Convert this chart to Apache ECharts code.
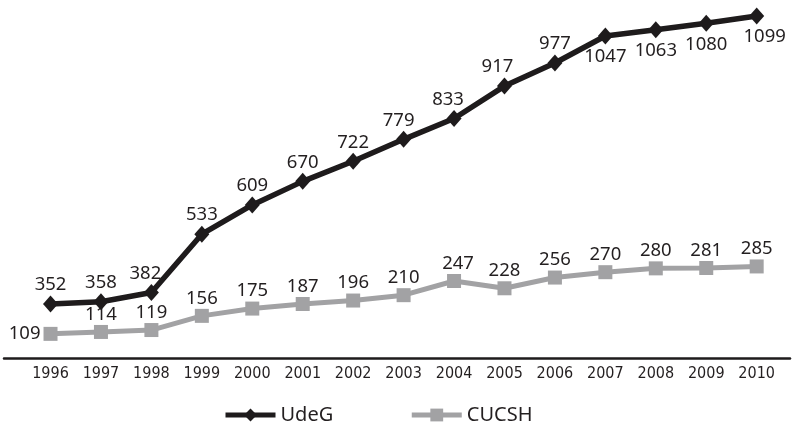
<!DOCTYPE html>
<html>
<head>
<meta charset="utf-8">
<script src="https://cdn.jsdelivr.net/npm/echarts@6/dist/echarts.min.js"></script>
<style>
  html, body { margin: 0; padding: 0; background: #fff; }
  #chart { width: 792px; height: 424px; }
</style>
</head>
<body>
<div id="chart"></div>
<script>
// Students enrolled per year
const years = ['1996','1997','1998','1999','2000','2001','2002','2003','2004','2005','2006','2007','2008','2009','2010'];
const udegValues = [352, 358, 382, 533, 609, 670, 722, 779, 833, 917, 977, 1047, 1063, 1080, 1099];
const cucshValues = [109, 114, 119, 156, 175, 187, 196, 210, 247, 228, 256, 270, 280, 281, 285];
const seriesNames = ['UdeG', 'CUCSH'];

// Each series has its own (hidden) value axis
const udegRange = [212, 1104];
const cucshRange = [46, 944];

// Labels that sit under / beside their point instead of above
const udegBelow = ['2007', '2008', '2009', '2010'];
const cucshLeft = ['1996'];
// Small horizontal nudges so labels clear the rising line
const udegNudge = { '1998': -6, '2003': -5, '2004': -6, '2005': -7, '2010': 8 };
const cucshNudge = { '2004': 4 };

const DARK = '#1e1b1c';
const GREY = '#a2a2a4';
const TEXT = '#231f20';
const labelFont = { fontFamily: '"Noto Sans", sans-serif', fontSize: 18.5, color: TEXT };

function withLabels(values, special, specialPos, distance, nudge) {
  return values.map((v, i) => {
    const item = { value: v };
    const label = {};
    if (special.includes(years[i])) {
      label.position = specialPos;
      label.distance = distance;
    }
    if (nudge[years[i]] !== undefined) {
      label.offset = [nudge[years[i]], 0];
    }
    if (Object.keys(label).length) item.label = label;
    return item;
  });
}

const chart = echarts.init(document.getElementById('chart'), null, { renderer: 'canvas' });

const gridTop = 14;
const gridBottom = 424 - 358;

chart.setOption({
  animation: false,
  backgroundColor: '#fff',
  grid: [
    { left: 25.3, right: 10.1, top: gridTop, bottom: gridBottom },
    { left: 4, right: 2, top: gridTop, bottom: gridBottom }
  ],
  xAxis: [
    {
      type: 'category',
      gridIndex: 0,
      data: years,
      boundaryGap: true,
      axisLine: { show: false },
      axisTick: { show: false },
      axisLabel: {
        margin: 8,
        fontFamily: '"Liberation Sans Narrow", "DejaVu Sans Condensed", sans-serif',
        fontSize: 16,
        color: TEXT
      }
    },
    {
      type: 'value',
      gridIndex: 1,
      min: 0,
      max: 1,
      axisLine: { show: true, lineStyle: { color: DARK, width: 2.5 } },
      axisTick: { show: false },
      axisLabel: { show: false },
      splitLine: { show: false }
    }
  ],
  yAxis: [
    { type: 'value', gridIndex: 0, min: udegRange[0], max: udegRange[1], show: false, splitLine: { show: false } },
    { type: 'value', gridIndex: 0, min: cucshRange[0], max: cucshRange[1], show: false, splitLine: { show: false } },
    { type: 'value', gridIndex: 1, min: 0, max: 1, show: false, splitLine: { show: false } }
  ],
  legend: {
    left: 223,
    top: 405,
    padding: 0,
    itemWidth: 50,
    itemHeight: 16,
    itemGap: 76,
    lineStyle: { width: 5 },
    textStyle: { fontFamily: '"Noto Sans", sans-serif', fontSize: 20, color: TEXT },
    data: seriesNames
  },
  series: [
    {
      name: seriesNames[0],
      type: 'line',
      xAxisIndex: 0,
      yAxisIndex: 0,
      data: withLabels(udegValues, udegBelow, 'bottom', 3, udegNudge),
      symbol: 'diamond',
      symbolSize: [15, 17],
      itemStyle: { color: DARK },
      lineStyle: { color: DARK, width: 5.5 },
      label: Object.assign({ show: true, position: 'top', distance: 1 }, labelFont),
      z: 3
    },
    {
      name: seriesNames[1],
      type: 'line',
      xAxisIndex: 0,
      yAxisIndex: 1,
      data: withLabels(cucshValues, cucshLeft, 'left', 3, cucshNudge),
      symbol: 'rect',
      symbolSize: 14,
      itemStyle: { color: GREY },
      lineStyle: { color: GREY, width: 5 },
      label: Object.assign({ show: true, position: 'top', distance: 1 }, labelFont),
      z: 2
    }
  ]
});
</script>
</body>
</html>
